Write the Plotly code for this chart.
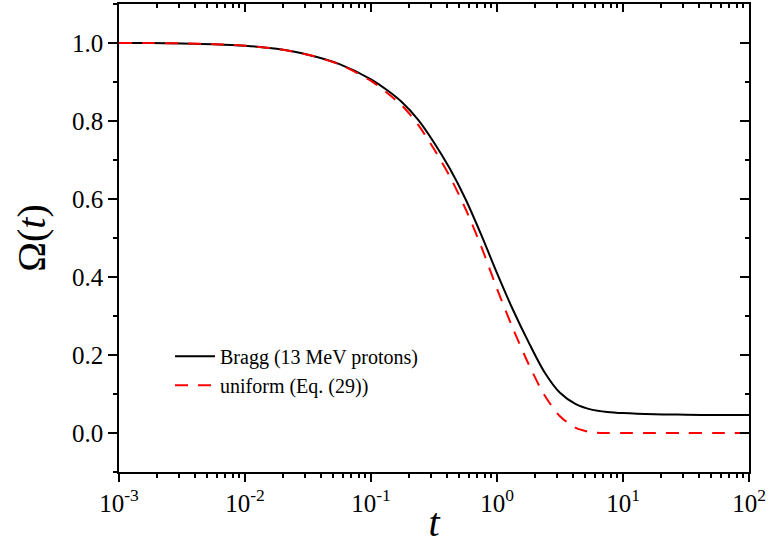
import plotly.graph_objects as go

# time values (log-spaced)
t_vals = [0.001, 0.00178, 0.00316, 0.00562, 0.01, 0.0178, 0.0316, 0.0562, 0.1,
          0.133, 0.178, 0.237, 0.316, 0.422, 0.562, 0.75, 1.0, 1.33, 1.78, 2.37,
          3.16, 4.22, 5.62, 7.5, 10.0, 17.8, 31.6, 56.2, 100.0]

bragg = [1.000, 1.000, 0.999, 0.997, 0.993, 0.985, 0.970, 0.946, 0.907,
         0.880, 0.847, 0.803, 0.745, 0.678, 0.600, 0.508, 0.410, 0.318, 0.233, 0.157,
         0.103, 0.074, 0.060, 0.054, 0.051, 0.048, 0.047, 0.046, 0.046]

uniform = [1.000, 1.000, 0.999, 0.997, 0.993, 0.985, 0.970, 0.945, 0.903,
           0.873, 0.838, 0.790, 0.728, 0.658, 0.575, 0.478, 0.370, 0.270, 0.177, 0.098,
           0.043, 0.013, 0.002, 0.000, 0.000, 0.000, 0.000, 0.000, 0.000]

x_major = [1e-3, 1e-2, 1e-1, 1e0, 1e1, 1e2]
x_major_text = ["10<sup>-3</sup>", "10<sup>-2</sup>", "10<sup>-1</sup>",
                "10<sup>0</sup>", "10<sup>1</sup>", "10<sup>2</sup>"]
x_minor = [m * 10.0 ** e for e in range(-3, 2) for m in range(2, 10)]
y_major = [0.0, 0.2, 0.4, 0.6, 0.8, 1.0]
y_minor = [-0.1, 0.1, 0.3, 0.5, 0.7, 0.9, 1.1]

FONT = "Liberation Serif, Times New Roman, serif"

fig = go.Figure()
fig.add_trace(go.Scatter(x=t_vals, y=bragg, mode="lines",
                         name="Bragg (13 MeV protons)",
                         line=dict(color="black", width=2, shape="spline", smoothing=0.8)))
fig.add_trace(go.Scatter(x=t_vals, y=uniform, mode="lines",
                         name="uniform (Eq. (29))",
                         line=dict(color="#ff0000", width=2, dash="13px,10px",
                                   shape="spline", smoothing=0.8)))
# invisible trace to activate mirrored (inward-tick) axes
fig.add_trace(go.Scatter(x=[t_vals[0]], y=[bragg[0]], xaxis="x2", yaxis="y2",
                         mode="markers", marker=dict(opacity=0), showlegend=False,
                         hoverinfo="skip"))

common = dict(showgrid=False, zeroline=False, linecolor="black", linewidth=1.5,
              tickcolor="black", tickwidth=1.5, automargin=False)

fig.update_layout(
    width=769, height=545,
    margin=dict(l=119, r=20, t=4, b=73, autoexpand=False),
    paper_bgcolor="white", plot_bgcolor="white",
    font=dict(family=FONT, size=25, color="black"),
    showlegend=True,
    legend=dict(x=0.081, y=0.289, xanchor="left", yanchor="top",
                bgcolor="rgba(0,0,0,0)", font=dict(family=FONT, size=20),
                itemwidth=40),
    xaxis=dict(type="log", range=[-3, 2], tickmode="array", tickvals=x_major,
               ticktext=x_major_text, ticks="outside", ticklen=8,
               showline=True, mirror=False,
               minor=dict(tickmode="array", tickvals=x_minor, ticks="outside",
                          ticklen=4, tickcolor="black", tickwidth=1.5),
               title=dict(text="<i>t</i>", font=dict(family=FONT, size=40), standoff=0),
               **common),
    yaxis=dict(range=[-0.1, 1.1], tickmode="array", tickvals=y_major,
               tickformat=".1f", ticks="outside", ticklen=9, showline=True,
               minor=dict(tickmode="array", tickvals=y_minor, ticks="outside",
                          ticklen=4, tickcolor="black", tickwidth=1.5),
               title=dict(text="Ω(<i>t</i>)", font=dict(family=FONT, size=40), standoff=14),
               **common),
    xaxis2=dict(type="log", range=[-3, 2], overlaying="x", side="top", anchor="y2",
                tickmode="array", tickvals=x_major, ticks="inside", ticklen=8,
                showticklabels=False, showline=True,
                minor=dict(tickmode="array", tickvals=x_minor, ticks="inside",
                           ticklen=4, tickcolor="black", tickwidth=1.5),
                **common),
    yaxis2=dict(range=[-0.1, 1.1], overlaying="y", side="right", anchor="x2",
                tickmode="array", tickvals=y_major, ticks="inside", ticklen=9,
                showticklabels=False, showline=True,
                minor=dict(tickmode="array", tickvals=y_minor, ticks="inside",
                           ticklen=4, tickcolor="black", tickwidth=1.5),
                **common),
)

fig.write_html("out.html")
